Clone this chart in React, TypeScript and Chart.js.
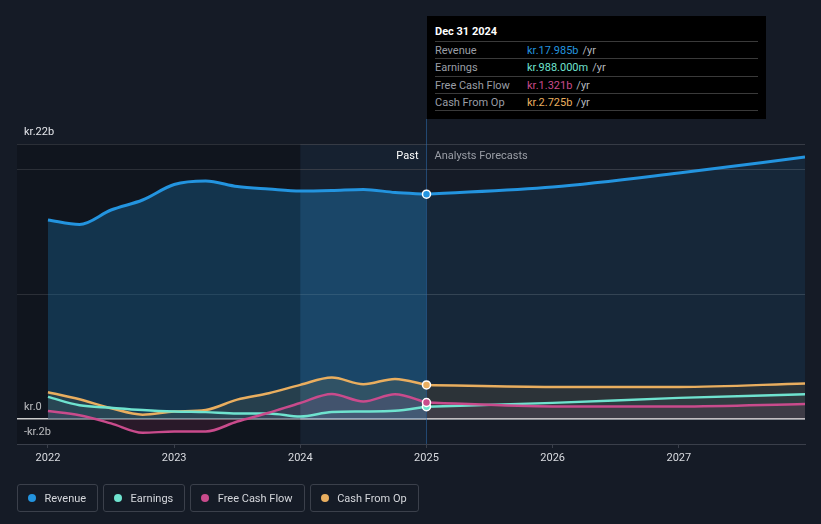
import React, { useEffect, useRef } from 'react';
import { Chart, registerables } from 'chart.js';

Chart.register(...registerables);

const FONT = 'Roboto, "Noto Sans", "DejaVu Sans", sans-serif';

// ---- data (kr. billions) ----
const pastYears = [2022, 2022.25, 2022.5, 2022.75, 2023, 2023.25, 2023.5, 2023.75, 2024, 2024.25, 2024.5, 2024.75, 2025];
const forecastYears = [2025, 2026, 2027, 2028];

const revenuePast = [15.92, 15.56, 16.72, 17.52, 18.76, 19.04, 18.6, 18.4, 18.24, 18.28, 18.36, 18.12, 17.985];
const revenueForecast = [17.985, 18.56, 19.68, 20.96];

const earningsPast = [1.77, 1.1, 0.9, 0.72, 0.6, 0.55, 0.45, 0.45, 0.2, 0.56, 0.6, 0.66, 0.988];
const earningsForecast = [0.988, 1.29, 1.69, 1.98];

const fcfPast = [0.64, 0.3, -0.35, -1.1, -1.0, -1.0, -0.2, 0.5, 1.28, 2.0, 1.4, 1.98, 1.321];
const fcfForecast = [1.321, 1.0, 1.0, 1.2];

const cfoPast = [2.14, 1.58, 0.86, 0.35, 0.6, 0.72, 1.55, 2.06, 2.73, 3.32, 2.78, 3.21, 2.725];
const cfoForecast = [2.725, 2.57, 2.57, 2.84];

const xTickValues = [2022, 2023, 2024, 2025, 2026, 2027];
const xTickLabels = ['2022', '2023', '2024', '2025', '2026', '2027'];
const yTickValues = [-2, 0, 10, 20, 22];
const yTickLabels = ['-kr.2b', 'kr.0', '', '', 'kr.22b'];

const xMin = 2021.7546;
const xMax = 2028;
const yMin = -2;
const yMax = 22;

const highlightStart = 2024;
const forecastStart = 2025;

const tooltipTitle = 'Dec 31 2024';
const seriesNames = ['Revenue', 'Earnings', 'Free Cash Flow', 'Cash From Op'];
const tooltipValues = ['kr.17.985b', 'kr.988.000m', 'kr.1.321b', 'kr.2.725b'];
const seriesColors = ['#2394df', '#6fe3cf', '#c94b8c', '#e9ae5f'];

const toXY = (xs: number[], ys: number[]) => xs.map((x, i) => ({ x, y: ys[i] }));

function lineDataset(
  label: string,
  xs: number[],
  ys: number[],
  color: string,
  fill: string,
  width: number,
  withPoint: boolean
) {
  const last = xs.length - 1;
  return {
    label,
    data: toXY(xs, ys),
    borderColor: color,
    backgroundColor: fill,
    borderWidth: width,
    fill: 'origin',
    cubicInterpolationMode: 'monotone' as const,
    pointRadius: (ctx: any) => (withPoint && ctx.dataIndex === last ? 4 : 0),
    pointHoverRadius: 0,
    pointBackgroundColor: color,
    pointBorderColor: '#ffffff',
    pointBorderWidth: 1.5,
  };
}

const overlayPlugin = {
  id: 'overlay',
  beforeDraw(chart: any) {
    const { ctx, chartArea: a, scales } = chart;
    const x1 = scales.x.getPixelForValue(highlightStart);
    const x2 = scales.x.getPixelForValue(forecastStart);
    ctx.save();
    ctx.fillStyle = 'rgba(40,110,190,0.07)';
    ctx.fillRect(x1, a.top, x2 - x1, a.bottom - a.top);
    ctx.restore();
  },
  beforeDatasetsDraw(chart: any) {
    const { ctx, chartArea: a, scales } = chart;
    const x1 = scales.x.getPixelForValue(highlightStart);
    const x2 = scales.x.getPixelForValue(forecastStart);
    ctx.save();
    ctx.fillStyle = 'rgba(0,0,0,0.2)';
    ctx.fillRect(a.left, a.top, x1 - a.left, a.bottom - a.top);
    ctx.strokeStyle = 'rgba(45,110,175,0.55)';
    ctx.lineWidth = 1;
    ctx.beginPath();
    ctx.moveTo(Math.round(x2) + 0.5, 119);
    ctx.lineTo(Math.round(x2) + 0.5, a.bottom);
    ctx.stroke();
    ctx.restore();
  },
  afterDraw(chart: any) {
    const { ctx, scales } = chart;
    const x2 = scales.x.getPixelForValue(forecastStart);
    ctx.save();
    ctx.font = `11px ${FONT}`;
    ctx.textBaseline = 'middle';
    ctx.textAlign = 'right';
    ctx.fillStyle = '#ffffff';
    ctx.fillText('Past', x2 - 8, 156);
    ctx.textAlign = 'left';
    ctx.fillStyle = '#9a9ea6';
    ctx.fillText('Analysts Forecasts', x2 + 8, 156);
    ctx.restore();
  },
};

export default function App() {
  const ref = useRef<HTMLCanvasElement>(null);

  useEffect(() => {
    if (!ref.current) return;
    Chart.defaults.font.family = FONT;
    const chart = new Chart(ref.current, {
      type: 'line',
      data: {
        datasets: [
          lineDataset('Revenue', pastYears, revenuePast, seriesColors[0], 'rgba(35,148,223,0.32)', 3, true),
          lineDataset('Revenue forecast', forecastYears, revenueForecast, seriesColors[0], 'rgba(35,148,223,0.10)', 3, false),
          lineDataset('Free Cash Flow', pastYears, fcfPast, seriesColors[2], 'rgba(201,60,110,0.18)', 2.5, true),
          lineDataset('Free Cash Flow forecast', forecastYears, fcfForecast, seriesColors[2], 'rgba(201,60,110,0.12)', 2.5, false),
          lineDataset('Earnings', pastYears, earningsPast, seriesColors[1], 'rgba(110,230,207,0.07)', 2.5, true),
          lineDataset('Earnings forecast', forecastYears, earningsForecast, seriesColors[1], 'rgba(110,230,207,0.05)', 2.5, false),
          lineDataset('Cash From Op', pastYears, cfoPast, seriesColors[3], 'rgba(120,85,40,0.35)', 2.5, true),
          lineDataset('Cash From Op forecast', forecastYears, cfoForecast, seriesColors[3], 'rgba(120,85,40,0.25)', 2.5, false),
        ] as any,
      },
      options: {
        animation: false,
        responsive: false,
        devicePixelRatio: 1,
        events: [],
        layout: { padding: { left: 17, right: 16, top: 144, bottom: 56 } },
        plugins: {
          legend: { display: false },
          tooltip: { enabled: false },
          filler: { drawTime: 'beforeDatasetsDraw' },
        } as any,
        scales: {
          x: {
            type: 'linear',
            min: xMin,
            max: xMax,
            afterBuildTicks: (s: any) => {
              s.ticks = xTickValues.map((v) => ({ value: v }));
            },
            afterFit: (s: any) => {
              s.height = 24;
            },
            ticks: {
              autoSkip: false,
              maxRotation: 0,
              color: '#d9dbe0',
              font: { size: 11, family: FONT },
              padding: 4,
              callback: (v: any) => {
                const i = xTickValues.indexOf(Number(v));
                return i >= 0 ? xTickLabels[i] : '';
              },
            },
            grid: {
              drawOnChartArea: false,
              drawTicks: true,
              tickLength: 4,
              color: '#3a3f4a',
            },
            border: { display: true, color: '#3a3f4a', width: 1 },
          },
          y: {
            type: 'linear',
            min: yMin,
            max: yMax,
            afterBuildTicks: (s: any) => {
              s.ticks = yTickValues.map((v) => ({ value: v }));
            },
            afterFit: (s: any) => {
              s.width = 0;
              s.paddingTop = 0;
              s.paddingBottom = 0;
            },
            ticks: {
              mirror: true,
              padding: 7,
              labelOffset: -12,
              color: '#e4e6ea',
              font: { size: 11, family: FONT },
              callback: (v: any) => {
                const i = yTickValues.indexOf(Number(v));
                return i >= 0 ? yTickLabels[i] : '';
              },
            },
            grid: {
              drawTicks: false,
              color: (ctx: any) => (ctx.tick && ctx.tick.value === 0 ? '#ffffff' : '#363b45'),
              lineWidth: (ctx: any) => (ctx.tick && ctx.tick.value === 0 ? 1.5 : 1),
            },
            border: { display: false },
          },
        },
      },
      plugins: [overlayPlugin],
    } as any);
    return () => chart.destroy();
  }, []);

  return (
    <div
      style={{
        position: 'fixed',
        left: 0,
        top: 0,
        width: 821,
        height: 524,
        background: '#151b26',
        overflow: 'hidden',
        fontFamily: FONT,
      }}
    >
      <canvas ref={ref} width={821} height={524} style={{ position: 'absolute', left: 0, top: 0 }} />
      <div
        style={{
          position: 'absolute',
          left: 427,
          top: 16,
          width: 339,
          height: 103,
          background: '#000000',
          boxSizing: 'border-box',
          padding: '0 8px',
          fontSize: 11,
        }}
      >
        <div
          style={{
            height: 25,
            boxSizing: 'border-box',
            paddingTop: 9,
            lineHeight: '14px',
            color: '#ffffff',
            fontWeight: 'bold',
          }}
        >
          {tooltipTitle}
        </div>
        {seriesNames.map((name, i) => (
          <div
            key={name}
            style={{
              height: i % 2 === 0 ? 17 : 18,
              boxSizing: 'border-box',
              borderTop: '1px solid #3a3a3a',
              borderBottom: i === seriesNames.length - 1 ? '1px solid #3a3a3a' : 'none',
              display: 'flex',
              alignItems: 'center',
              whiteSpace: 'nowrap',
            }}
          >
            <span style={{ width: 92, color: '#9a9ea6' }}>{name}</span>
            <span style={{ color: seriesColors[i] }}>{tooltipValues[i]}</span>
            <span style={{ color: '#b4b7bd', marginLeft: 4 }}>/yr</span>
          </div>
        ))}
      </div>
      <div
        style={{
          position: 'absolute',
          left: 17,
          top: 484,
          display: 'flex',
          gap: 5,
        }}
      >
        {seriesNames.map((name, i) => (
          <div
            key={name}
            style={{
              height: 28,
              boxSizing: 'border-box',
              border: '1px solid #3b404b',
              borderRadius: 3,
              padding: '0 11px 0 10px',
              display: 'flex',
              alignItems: 'center',
              fontSize: 11,
              color: '#d5d7dc',
              whiteSpace: 'nowrap',
            }}
          >
            <span
              style={{
                width: 8,
                height: 8,
                borderRadius: 4,
                background: seriesColors[i],
                marginRight: 8.5,
                display: 'inline-block',
                flexShrink: 0,
              }}
            />
            {name}
          </div>
        ))}
      </div>
    </div>
  );
}
